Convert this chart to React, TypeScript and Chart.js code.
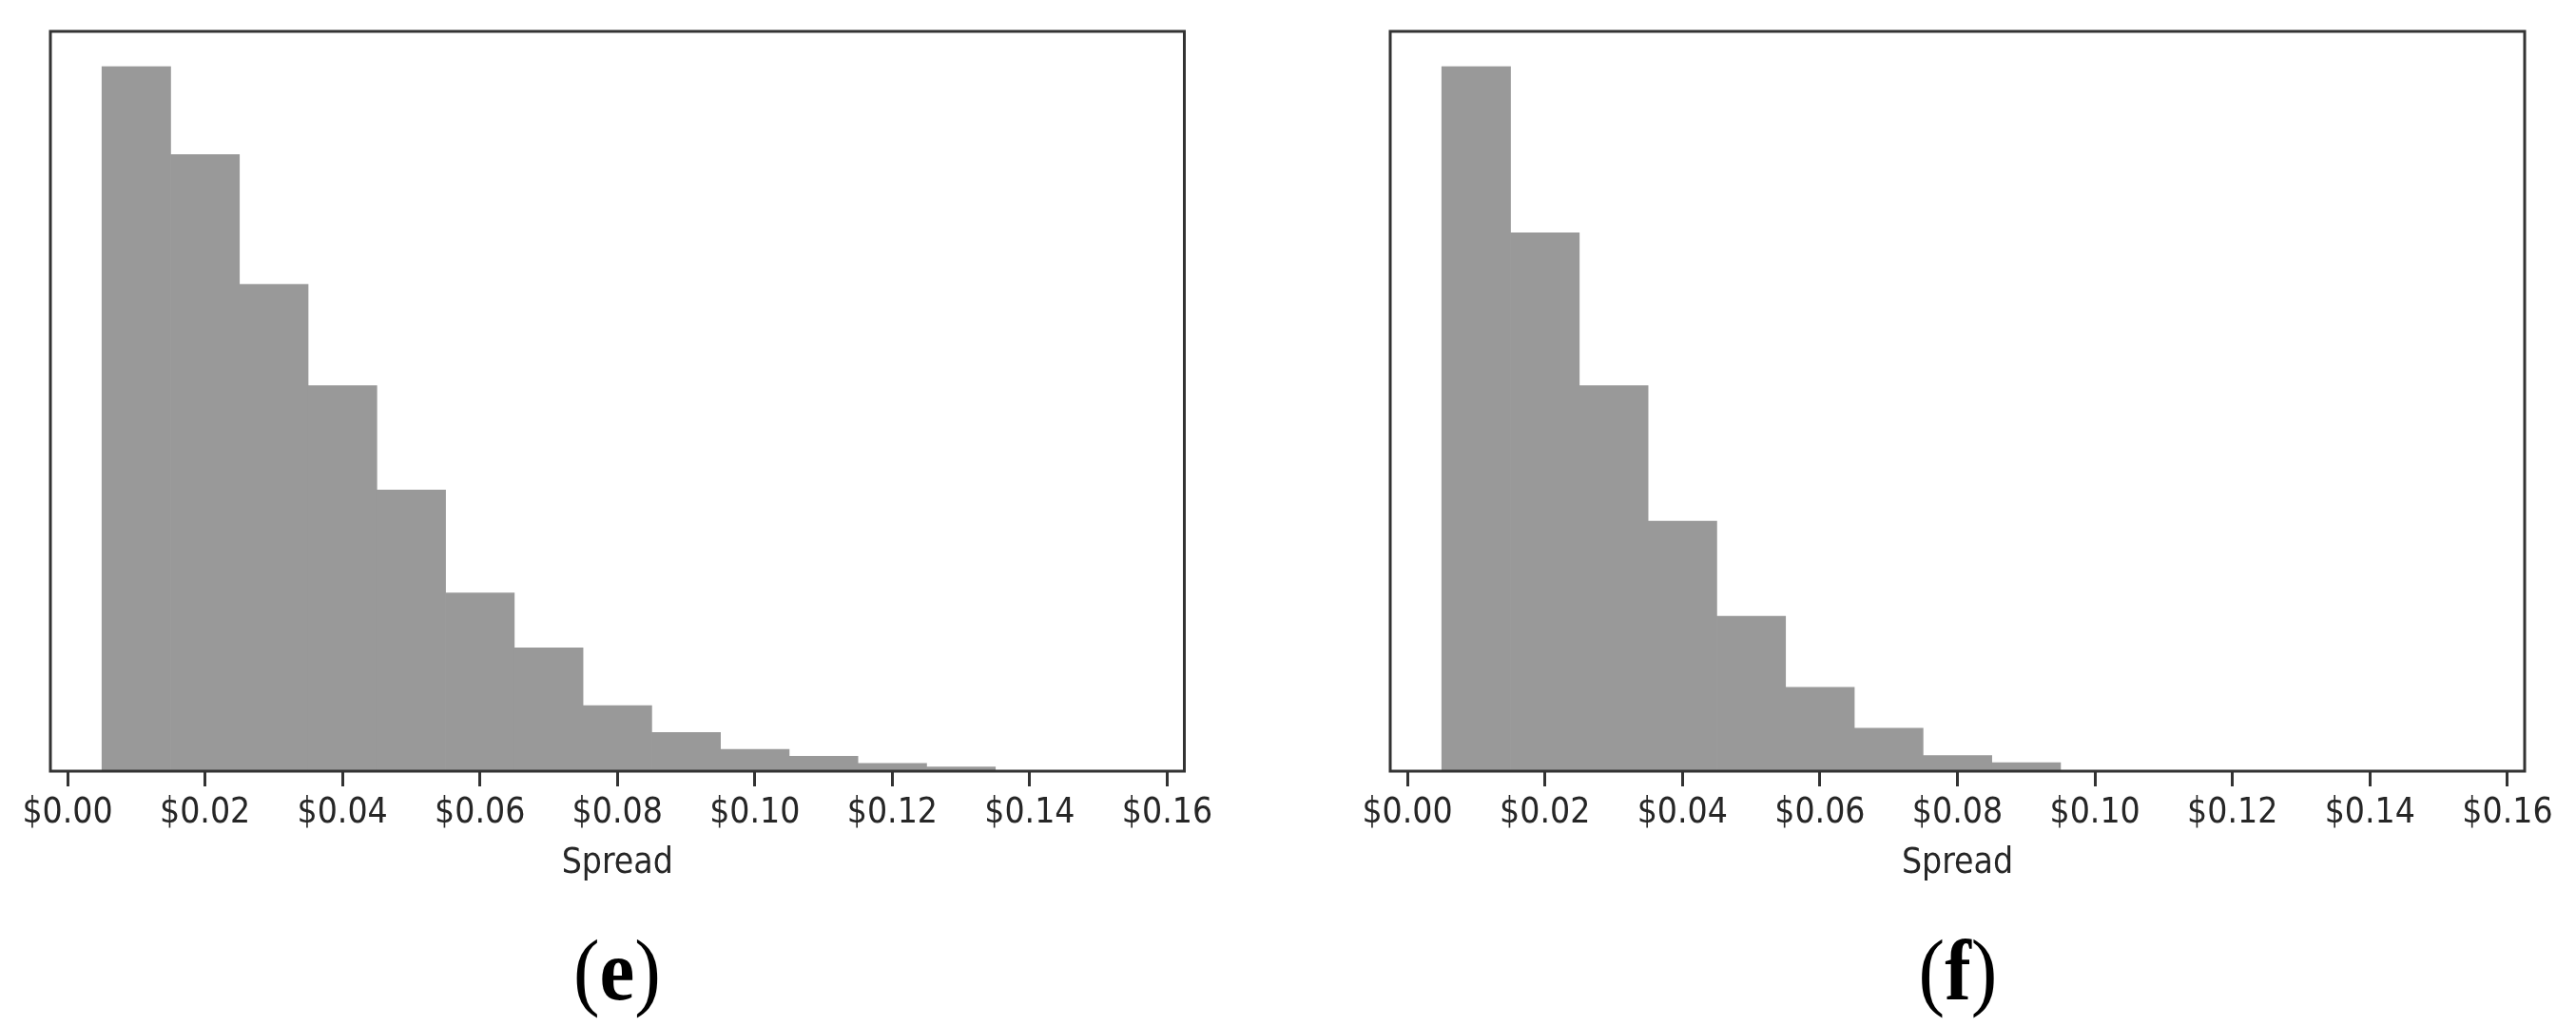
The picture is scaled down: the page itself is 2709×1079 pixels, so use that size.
import React, { useEffect, useRef } from "react";
import { Chart, registerables } from "chart.js";

Chart.register(...registerables);

// ---- data ----
const BIN_CENTERS = [0.01, 0.02, 0.03, 0.04, 0.05, 0.06, 0.07, 0.08, 0.09, 0.1, 0.11, 0.12, 0.13, 0.14, 0.15];
const SPREAD_E = [1000, 875, 691, 547, 399, 253, 175, 93, 55, 31, 21, 11, 6, 0, 0];
const SPREAD_F = [1000, 764, 547, 355, 220, 119, 61, 22, 12, 0, 0, 0, 0, 0, 0];
const TICK_VALUES = [0, 0.02, 0.04, 0.06, 0.08, 0.1, 0.12, 0.14, 0.16];
const TICK_LABELS = ["$0.00", "$0.02", "$0.04", "$0.06", "$0.08", "$0.10", "$0.12", "$0.14", "$0.16"];
const AXIS_TITLE = "Spread";
const CAPTIONS = ["e", "f"];

const TICK_FONT = "'DejaVu Sans Condensed', 'DejaVu Sans', sans-serif";

const framePlugin = {
  id: "frame",
  afterDraw(chart: any) {
    const { ctx, chartArea: a } = chart;
    ctx.save();
    ctx.strokeStyle = "#333333";
    ctx.lineWidth = 3;
    ctx.strokeRect(a.left, a.top, a.right - a.left, a.bottom - a.top);
    ctx.restore();
  },
};

type PanelProps = {
  values: number[];
  left: number;
  width: number;
  padLeft: number;
  padRight: number;
  caption: string;
};

const CANVAS_H = 960;
const CHART_BOTTOM = 811;

function Panel({ values, left, width, padLeft, padRight, caption }: PanelProps) {
  const ref = useRef<HTMLCanvasElement | null>(null);

  useEffect(() => {
    if (!ref.current) return;
    const chart = new Chart(ref.current, {
      type: "bar",
      data: {
        datasets: [
          {
            data: BIN_CENTERS.map((x, i) => ({ x, y: values[i] })),
            backgroundColor: "#999999",
            borderWidth: 0,
            barPercentage: 1,
            categoryPercentage: 1,
          },
        ],
      },
      options: {
        animation: false,
        responsive: false,
        devicePixelRatio: 1,
        events: [],
        layout: { padding: { left: padLeft, right: padRight, top: 33, bottom: 0 } },
        plugins: { legend: { display: false }, tooltip: { enabled: false } },
        scales: {
          x: {
            type: "linear",
            min: -0.0025,
            max: 0.1625,
            offset: false,
            afterBuildTicks: (axis: any) => {
              axis.ticks = TICK_VALUES.map((v) => ({ value: v }));
            },
            afterFit: (scale: any) => {
              scale.height = CANVAS_H - CHART_BOTTOM;
            },
            grid: {
              offset: false,
              drawOnChartArea: false,
              drawTicks: true,
              tickLength: 16,
              tickColor: "#333333",
              tickWidth: 3,
            },
            border: { display: false },
            ticks: {
              autoSkip: false,
              maxRotation: 0,
              minRotation: 0,
              padding: 6,
              color: "#262626",
              font: { family: TICK_FONT, size: 37 },
              callback: (_v: any, i: number) => TICK_LABELS[i],
            },
            title: {
              display: true,
              text: AXIS_TITLE,
              color: "#262626",
              font: { family: TICK_FONT, size: 37 },
              padding: { top: 0, bottom: 29 },
            },
          },
          y: {
            display: false,
            min: 0,
            max: Math.max(...values) * 1.05,
          },
        },
      },
      plugins: [framePlugin],
    } as any);
    return () => chart.destroy();
  }, []);

  const center = left + (padLeft + (width - padRight)) / 2;

  return (
    <>
      <canvas
        ref={ref}
        width={width}
        height={CANVAS_H}
        style={{ position: "absolute", left, top: 0, width, height: CANVAS_H }}
      />
      <div
        style={{
          position: "absolute",
          left: center - 150,
          top: 976,
          width: 300,
          textAlign: "center",
          fontFamily: "'Liberation Serif', serif",
          fontSize: 90,
          lineHeight: "90px",
          color: "#000",
        }}
      >
        <span style={{ display: "inline-block", transform: "scaleX(0.92)" }}>
          (<b>{caption}</b>)
        </span>
      </div>
    </>
  );
}

export default function App() {
  return (
    <div
      style={{
        position: "absolute",
        left: 0,
        top: 0,
        width: 2709,
        height: 1079,
        background: "#ffffff",
        overflow: "hidden",
      }}
    >
      <Panel values={SPREAD_E} left={0} width={1300} padLeft={53} padRight={54.5} caption={CAPTIONS[0]} />
      <Panel values={SPREAD_F} left={1400} width={1309} padLeft={62} padRight={54} caption={CAPTIONS[1]} />
    </div>
  );
}
